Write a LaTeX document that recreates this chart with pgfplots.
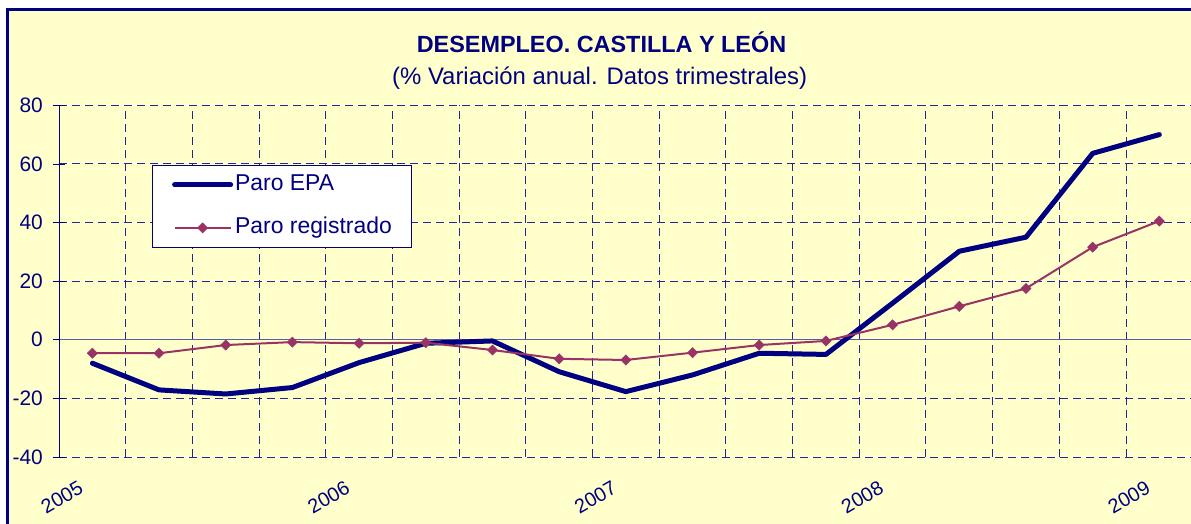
\documentclass[border=0pt]{standalone}
\usepackage{pgfplots}
\pgfplotsset{compat=1.18}
\usepackage{fontspec}
\setmainfont{Liberation Sans}
\definecolor{navy}{HTML}{000080}
\definecolor{gridc}{HTML}{262693}
\definecolor{zeroc}{HTML}{5A5AA8}
\definecolor{bg}{HTML}{FFFFCC}
\definecolor{reg}{HTML}{993366}
\begin{document}
\begin{tikzpicture}
\useasboundingbox (0,0) rectangle (1191bp,524bp);
\clip (0,0) rectangle (1191bp,524bp);
\fill[white] (0,0) rectangle (1191bp,524bp);
\draw[navy, line width=2.6bp, fill=bg] (7.2bp,-20bp) rectangle (1220bp,514.3bp);
\node[anchor=base, text=navy, font=\fontsize{23.5}{28}\selectfont\bfseries, inner sep=0pt] at (601.5bp,471.5bp) {DESEMPLEO. CASTILLA Y LEÓN};
\node[anchor=base, text=navy, font=\fontsize{24}{28}\selectfont, inner sep=0pt] at (599.7bp,439.7bp) {(\% Variación anual. Datos trimestrales)};
\begin{axis}[
  at={(59bp,67bp)}, anchor=south west, scale only axis,
  width=1133.7bp, height=351.7bp,
  xmin=-0.5, xmax=16.5, ymin=-40, ymax=80,
  axis line style={draw=none},
  xtick={0,4,8,12,16}, xticklabels={2005,2006,2007,2008,2009},
  minor xtick={-0.5,0.5,...,16.5},
  xminorgrids=true, xmajorgrids=false,
  ytick={-40,-20,0,20,40,60,80}, yticklabels={-40,-20,0,20,40,60,80},
  ymajorgrids=true,
  major grid style={color=gridc, line width=1bp, dash pattern=on 8bp off 5bp},
  minor grid style={color=gridc, line width=1bp, dash pattern=on 8bp off 5bp},
  xtick style={draw=none}, minor tick length=0pt,
  ytick pos=left, tick align=center, major tick length=12bp,
  ytick style={color=navy, line width=0.8bp},
  yticklabel style={font=\fontsize{21}{24}\selectfont, text=navy, anchor=east, inner sep=0pt, xshift=-10bp},
  xticklabel style={font=\fontsize{20}{24}\selectfont, text=navy, xshift=-11bp, yshift=-23bp, rotate=30, anchor=east, inner sep=0pt},
  legend style={at={(axis description cs:0.0818,0.8303)}, anchor=north west, draw=navy, line width=0.8bp, fill=white,
    font=\fontsize{23}{27}\selectfont, text=navy, inner xsep=20bp, inner ysep=5bp, row sep=14bp,
    nodes={inner xsep=0pt, inner ysep=4bp, text height=16bp, text depth=5bp},
    /tikz/every odd column/.style={column sep=2bp}},
  legend cell align=left,
  legend image code/.code={\draw[mark repeat=2,mark phase=2,#1] plot coordinates {(0bp,0bp) (28bp,0bp) (56bp,0bp)};},
]
\draw[color=zeroc, line width=1bp] (axis cs:-0.5,0) -- (axis cs:16.5,0);
\draw[color=navy, line width=0.8bp] (rel axis cs:0,0) -- (rel axis cs:0,1);
\addplot[color=navy, line width=5bp, line cap=round, line join=round] coordinates {
(0,-8.0) (1,-17.1) (2,-18.5) (3,-16.3) (4,-7.8) (5,-1.2) (6,-0.4) (7,-10.9) (8,-17.7)
(9,-12.0) (10,-4.6) (11,-5.0) (12,12.5) (13,30.2) (14,35.0) (15,63.6) (16,70.0)};
\addlegendentry{Paro EPA}
\addplot[color=reg, line width=2bp, mark=square*, mark size=3.6bp, mark options={rotate=45, fill=reg, line width=0.5bp}] coordinates {
(0,-4.6) (1,-4.6) (2,-1.8) (3,-0.8) (4,-1.2) (5,-1.0) (6,-3.5) (7,-6.5) (8,-6.9)
(9,-4.4) (10,-1.8) (11,-0.4) (12,5.1) (13,11.4) (14,17.5) (15,31.6) (16,40.5)};
\addlegendentry{Paro registrado}
\end{axis}
\end{tikzpicture}
\end{document}
